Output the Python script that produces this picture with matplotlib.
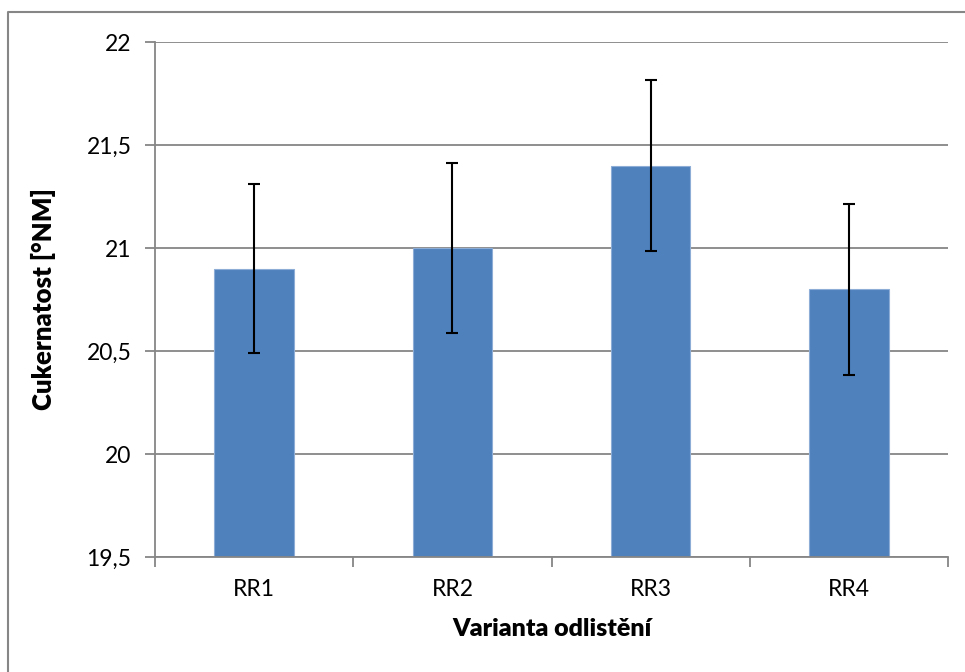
import matplotlib
matplotlib.use("Agg")
import matplotlib.pyplot as plt
from matplotlib.lines import Line2D
import numpy as np

categories = ["RR1", "RR2", "RR3", "RR4"]
values = [20.9, 21.0, 21.4, 20.8]
errors = [0.41, 0.415, 0.415, 0.415]
y_ticks = [19.5, 20.0, 20.5, 21.0, 21.5, 22.0]
y_tick_labels = ["19,5", "20", "20,5", "21", "21,5", "22"]

plt.rcParams['font.family'] = ['Lato', 'DejaVu Sans']

W, H = 965, 672
fig = plt.figure(figsize=(W / 100, H / 100), dpi=100)
ax = fig.add_axes([155 / W, 1 - 557 / H, (948 - 155) / W, (557 - 42) / H])

grid_c = "#868686"
x = np.arange(len(categories))
ax.bar(x, values, width=0.40, color="#4F81BD", edgecolor="#8EADD6", linewidth=0.8,
       bottom=0, zorder=2)
ax.errorbar(x, values, yerr=errors, fmt="none", ecolor="black", elinewidth=1.5,
            capsize=4.5, capthick=1.5, zorder=3)

ax.set_xlim(-0.5, len(categories) - 0.5)
ax.set_ylim(19.5, 22.0)
ax.set_yticks(y_ticks)
ax.set_yticklabels(y_tick_labels)
ax.set_xticks(x)
ax.set_xticklabels(categories)
ax.set_xticks(np.arange(len(categories) + 1) - 0.5, minor=True)

ax.yaxis.grid(True, color=grid_c, linewidth=1.3, zorder=0)
ax.set_axisbelow(True)
for s in ["top", "right"]:
    ax.spines[s].set_visible(False)
for s in ["left", "bottom"]:
    ax.spines[s].set_color(grid_c)
    ax.spines[s].set_linewidth(1.3)

ax.tick_params(axis="y", which="major", length=7, width=1.3, color=grid_c,
               labelsize=16.5, pad=10, labelcolor="black")
ax.tick_params(axis="x", which="major", length=0, labelsize=16.5, pad=16,
               labelcolor="black")
ax.tick_params(axis="x", which="minor", length=7, width=1.3, color=grid_c)

ax.set_xlabel("Varianta odlistění", fontsize=18, fontweight="heavy", labelpad=13)
ax.set_ylabel("Cukernatost [°NM]", fontsize=18.5, fontweight="heavy", labelpad=22)

# outer chart frame (left and top edges visible)
fig.add_artist(Line2D([8 / W, 8 / W, 1.0], [0.0, 1 - 12 / H, 1 - 12 / H],
                      transform=fig.transFigure, color=grid_c, linewidth=1.5))

fig.savefig("out.png", dpi=100, facecolor="white")
